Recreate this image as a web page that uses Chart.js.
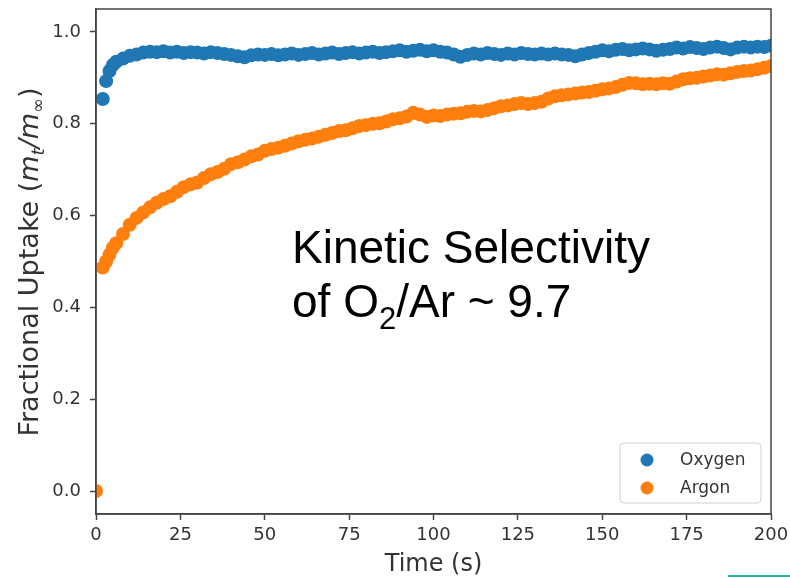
<!DOCTYPE html>
<html lang="en">
<head>
    <meta charset="UTF-8">
    <title>Fractional Uptake - Oxygen vs Argon</title>
    <script src="https://cdn.jsdelivr.net/npm/chart.js"></script>
    <style>
        html, body { margin: 0; padding: 0; background: #fff; }
        #wrap { position: relative; width: 790px; height: 577px; }
        #accent { position: absolute; left: 728px; top: 575px; width: 62px; height: 2px; background: #1db39c; }
    </style>
</head>
<body>
<div id="wrap">
    <canvas id="uptakeChart" width="790" height="577"></canvas>
    <div id="accent"></div>
</div>
<script>
    // Temps (s) des mesures
    const timeOxygen = [2, 3, 4, 5, 6, 8, 10, 12, 14, 16, 18, 20, 22, 24, 26, 28, 30, 32, 34, 36, 38, 40,
        42, 44, 46, 48, 50, 52, 54, 56, 58, 60, 62, 64, 66, 68, 70, 72, 74, 76, 78, 80, 82, 84, 86, 88, 90,
        92, 94, 96, 98, 100, 102, 104, 106, 108, 110, 112, 114, 116, 118, 120, 122, 124, 126, 128, 130,
        132, 134, 136, 138, 140, 142, 144, 146, 148, 150, 152, 154, 156, 158, 160, 162, 164, 166, 168,
        170, 172, 174, 176, 178, 180, 182, 184, 186, 188, 190, 192, 194, 196, 198, 200];
    const oxygen = [0.854, 0.893, 0.915, 0.928, 0.935, 0.942, 0.948, 0.951, 0.955, 0.957, 0.956, 0.958,
        0.955, 0.957, 0.954, 0.956, 0.955, 0.953, 0.956, 0.954, 0.952, 0.950, 0.947, 0.945, 0.949, 0.951,
        0.950, 0.952, 0.949, 0.951, 0.953, 0.950, 0.952, 0.954, 0.951, 0.953, 0.955, 0.952, 0.954, 0.956,
        0.953, 0.955, 0.957, 0.954, 0.956, 0.958, 0.960, 0.957, 0.959, 0.961, 0.958, 0.960, 0.957, 0.955,
        0.951, 0.946, 0.950, 0.953, 0.951, 0.954, 0.952, 0.950, 0.953, 0.951, 0.954, 0.952, 0.951, 0.953,
        0.951, 0.953, 0.951, 0.950, 0.947, 0.951, 0.954, 0.957, 0.960, 0.958, 0.961, 0.963, 0.960, 0.962,
        0.964, 0.962, 0.959, 0.961, 0.963, 0.966, 0.964, 0.967, 0.965, 0.963, 0.966, 0.968, 0.965, 0.962,
        0.966, 0.968, 0.966, 0.968, 0.967, 0.970];

    const timeArgon = [0, 2, 3, 4, 5, 6, 8, 10, 12, 14, 16, 18, 20, 22, 24, 26, 28, 30, 32, 34, 36, 38, 40,
        42, 44, 46, 48, 50, 52, 54, 56, 58, 60, 62, 64, 66, 68, 70, 72, 74, 76, 78, 80, 82, 84, 86, 88, 90,
        92, 94, 96, 98, 100, 102, 104, 106, 108, 110, 112, 114, 116, 118, 120, 122, 124, 126, 128, 130,
        132, 134, 136, 138, 140, 142, 144, 146, 148, 150, 152, 154, 156, 158, 160, 162, 164, 166, 168,
        170, 172, 174, 176, 178, 180, 182, 184, 186, 188, 190, 192, 194, 196, 198, 200];
    const argon = [0.0, 0.487, 0.500, 0.515, 0.530, 0.540, 0.560, 0.580, 0.595, 0.607, 0.618, 0.628,
        0.636, 0.642, 0.652, 0.662, 0.668, 0.672, 0.682, 0.690, 0.695, 0.702, 0.712, 0.716, 0.722, 0.729,
        0.733, 0.741, 0.745, 0.748, 0.752, 0.757, 0.762, 0.765, 0.768, 0.772, 0.776, 0.780, 0.784, 0.786,
        0.790, 0.795, 0.797, 0.800, 0.801, 0.805, 0.810, 0.812, 0.816, 0.824, 0.820, 0.815, 0.818, 0.817,
        0.820, 0.822, 0.823, 0.826, 0.828, 0.827, 0.830, 0.834, 0.838, 0.840, 0.843, 0.845, 0.843, 0.845,
        0.848, 0.855, 0.860, 0.862, 0.864, 0.866, 0.868, 0.869, 0.872, 0.875, 0.877, 0.880, 0.885, 0.889,
        0.888, 0.886, 0.887, 0.886, 0.888, 0.887, 0.892, 0.897, 0.899, 0.900, 0.903, 0.905, 0.908, 0.907,
        0.910, 0.913, 0.915, 0.916, 0.919, 0.922, 0.926];

    const seriesNames = ['Oxygen', 'Argon'];
    const seriesColors = ['#1f77b4', '#ff7f0e'];
    const xTicks = [0, 25, 50, 75, 100, 125, 150, 175, 200];
    const yTicks = [0.0, 0.2, 0.4, 0.6, 0.8, 1.0];

    const axisColor = '#444';
    const textColor = '#333';
    const tickFont = { family: 'DejaVu Sans', size: 18 };

    function toPoints(xs, ys) {
        return xs.map((x, i) => ({ x: x, y: ys[i] }));
    }

    // Cadre, titres des axes, légende et annotation
    const decorations = {
        id: 'decorations',
        afterDatasetsDraw(chart) {
            const ctx = chart.ctx;
            const a = chart.chartArea;
            ctx.save();
            ctx.strokeStyle = axisColor;
            ctx.lineWidth = 1.5;
            ctx.strokeRect(a.left, a.top, a.right - a.left, a.bottom - a.top);
            ctx.restore();
        },
        afterDraw(chart) {
            const ctx = chart.ctx;
            const a = chart.chartArea;

            // titre axe x
            ctx.save();
            ctx.fillStyle = textColor;
            ctx.font = '24px "DejaVu Sans"';
            ctx.textAlign = 'center';
            ctx.textBaseline = 'alphabetic';
            ctx.fillText('Time (s)', (a.left + a.right) / 2, 571);
            ctx.restore();

            // titre axe y avec indices
            const parts = [
                { t: 'Fractional Uptake (', f: '27px "DejaVu Sans"', dy: 0 },
                { t: 'm', f: 'italic 27px "DejaVu Sans"', dy: 0 },
                { t: 't', f: 'italic 18px "DejaVu Sans"', dy: 6 },
                { t: '/', f: 'italic 27px "DejaVu Sans"', dy: 0 },
                { t: 'm', f: 'italic 27px "DejaVu Sans"', dy: 0 },
                { t: '\u221E', f: '18px "DejaVu Sans"', dy: 6 },
                { t: ')', f: '27px "DejaVu Sans"', dy: 0 }
            ];
            ctx.save();
            let total = 0;
            parts.forEach(p => { ctx.font = p.f; p.w = ctx.measureText(p.t).width; total += p.w; });
            ctx.translate(38, 262);
            ctx.rotate(-Math.PI / 2);
            ctx.fillStyle = textColor;
            ctx.textBaseline = 'alphabetic';
            let cx = -total / 2;
            parts.forEach(p => {
                ctx.font = p.f;
                ctx.fillText(p.t, cx, p.dy);
                cx += p.w;
            });
            ctx.restore();

            // légende
            ctx.save();
            const lx = 620, ly = 443, lw = 141, lh = 60;
            ctx.beginPath();
            ctx.roundRect(lx, ly, lw, lh, 4);
            ctx.fillStyle = 'rgba(255,255,255,0.8)';
            ctx.fill();
            ctx.strokeStyle = '#d0d0d0';
            ctx.lineWidth = 1;
            ctx.stroke();
            ctx.font = '17px "DejaVu Sans"';
            ctx.textBaseline = 'middle';
            seriesNames.forEach((name, i) => {
                const y = 460 + i * 28;
                ctx.beginPath();
                ctx.arc(647, y, 6.5, 0, Math.PI * 2);
                ctx.fillStyle = seriesColors[i];
                ctx.fill();
                ctx.fillStyle = textColor;
                ctx.fillText(name, 680, y + 1);
            });
            ctx.restore();

            // annotation
            ctx.save();
            ctx.fillStyle = '#000';
            ctx.textBaseline = 'alphabetic';
            ctx.font = '46px "Liberation Sans"';
            ctx.fillText('Kinetic Selectivity', 292, 263);
            let x2 = 292;
            const line2 = [
                { t: 'of O', s: 46, dy: 0 },
                { t: '2', s: 31, dy: 12 },
                { t: '/Ar ~ 9.7', s: 46, dy: 0 }
            ];
            line2.forEach(p => {
                ctx.font = p.s + 'px "Liberation Sans"';
                ctx.fillText(p.t, x2, 317 + p.dy);
                x2 += ctx.measureText(p.t).width;
            });
            ctx.restore();
        }
    };

    const ctx = document.getElementById('uptakeChart').getContext('2d');
    window.uptakeChart = new Chart(ctx, {
        type: 'scatter',
        data: {
            datasets: [{
                label: seriesNames[0],
                data: toPoints(timeOxygen, oxygen),
                backgroundColor: seriesColors[0],
                pointRadius: 7,
                pointHoverRadius: 7,
                borderWidth: 0
            }, {
                label: seriesNames[1],
                data: toPoints(timeArgon, argon),
                backgroundColor: seriesColors[1],
                pointRadius: 7,
                pointHoverRadius: 7,
                borderWidth: 0
            }]
        },
        options: {
            responsive: false,
            animation: false,
            layout: { padding: { left: 0, right: 19, top: 9, bottom: 0 } },
            plugins: {
                legend: { display: false },
                tooltip: { enabled: false }
            },
            scales: {
                x: {
                    type: 'linear',
                    min: 0,
                    max: 200,
                    afterBuildTicks: scale => { scale.ticks = xTicks.map(v => ({ value: v })); },
                    afterFit: scale => { scale.height = 63; scale.paddingLeft = 0; scale.paddingRight = 0; },
                    grid: { drawOnChartArea: false, drawTicks: true, tickLength: 6, tickColor: axisColor, tickWidth: 1.5 },
                    border: { display: true, color: axisColor, width: 1.5 },
                    ticks: { color: textColor, font: tickFont, padding: 5, maxRotation: 0 }
                },
                y: {
                    type: 'linear',
                    min: -0.05,
                    max: 1.05,
                    afterBuildTicks: scale => { scale.ticks = yTicks.map(v => ({ value: v })); },
                    afterFit: scale => { scale.width = 96; scale.paddingTop = 0; scale.paddingBottom = 0; },
                    grid: { drawOnChartArea: false, drawTicks: true, tickLength: 6, tickColor: axisColor, tickWidth: 1.5 },
                    border: { display: true, color: axisColor, width: 1.5 },
                    ticks: { color: textColor, font: tickFont, padding: 9, callback: v => v.toFixed(1) }
                }
            }
        },
        plugins: [decorations]
    });
</script>
</body>
</html>
